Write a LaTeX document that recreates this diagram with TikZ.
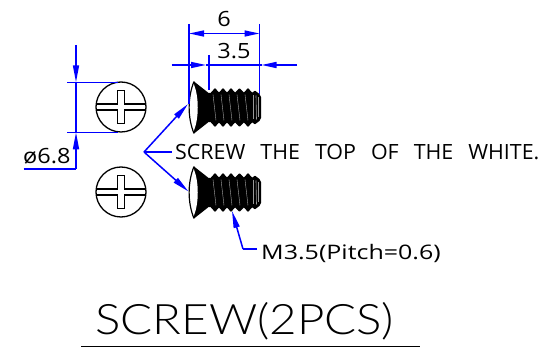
\documentclass[tikz,border=0pt]{standalone}
\usepackage{fontspec}
\setmainfont{Open Sans}
\newfontfamily\wideplain[FakeStretch=1.12]{Open Sans}
\newfontfamily\widepitch[FakeStretch=1.25]{Open Sans}
\newfontfamily\widenote[FakeStretch=1.02]{Open Sans}
\newfontfamily\titlefont[FakeStretch=1.13]{Lato Light}
\usetikzlibrary{arrows.meta}
\definecolor{dimblue}{RGB}{0,0,255}
\tikzset{
 dimline/.style={draw=dimblue,line width=1.5pt},
 tipped/.style={dimline,-{Triangle[length=17pt,width=6pt]}},
 shorttip/.style={dimline,-{Triangle[length=15pt,width=6pt]}},
 twotip/.style={dimline,{Triangle[length=15pt,width=6pt]}-{Triangle[length=15pt,width=6pt]}},
 outline/.style={draw=black,line width=1.3pt},
 label/.style={inner sep=0pt,anchor=west,text=black},
 screwhead/.pic={
  \fill[black] (-5,-26) -- (9,-15) -- (9,15) -- (-5,26) -- cycle;
  \fill[white] (-5,-23) .. controls (-10,-10) and (-10,10) .. (-5,23) .. controls (0,10) and (0,-10) .. cycle;
  \draw[black,line width=1.2pt] (-5,-26) .. controls (-11.5,-10) and (-11.5,10) .. (-5,26);
  \draw[black,line width=1.3pt,line join=round,fill=black] (9,-14)
   -- (12,-14) -- (16,-18.5) -- (20,-14) -- (24,-18.5) -- (28,-14) -- (32,-18.5) -- (36,-14) -- (40.5,-18.5) -- (45,-14) -- (49,-18.5) -- (53,-14) -- (56,-16) -- (60,-13)
   -- (61.5,-10) -- (61.5,10) -- (60,13)
   -- (56,16) -- (53,14) -- (49,18.5) -- (45,14) -- (40.5,18.5) -- (36,14) -- (32,18.5) -- (28,14) -- (24,18.5) -- (20,14) -- (16,18.5) -- (12,14) -- (9,14) -- cycle;
  \foreach \xx in {14,22,30,38,46}{\draw[white!65!black,line width=.4pt] (\xx,-13) -- (\xx+3,13);}
  \draw[white!60!black,line width=.5pt] (54,-12) -- (54,12);
  \draw[white!60!black,line width=.6pt] (57,-12) -- (57.5,12);
  \draw[white!60!black,line width=.6pt] (59.5,-10) -- (59.5,10);
 },
 slothead/.pic={
  \draw[outline] (0,0) circle (25);
  \draw[outline] (-25,-3) -- (-3.5,-3) -- (-3.5,-16.5) -- (3.5,-16.5) -- (3.5,-3) -- (25,-3);
  \draw[outline] (-25,3) -- (-3.5,3) -- (-3.5,16.5) -- (3.5,16.5) -- (3.5,3) -- (25,3);
 }
}
\begin{document}
\begin{tikzpicture}[x=1pt,y=-1pt]
\useasboundingbox (0,0) rectangle (544,355);
% heads
\pic at (121,107) {slothead};
\pic at (121,192) {slothead};
\pic at (199,107.5) {screwhead};
\pic at (199,192.5) {screwhead};
% dimension anchors
\coordinate (w1) at (189,24); \coordinate (w2) at (189,104);
\coordinate (r1) at (259.5,24); \coordinate (r2) at (259.5,94);
\coordinate (m1) at (209,55); \coordinate (m2) at (209,90);
\coordinate (a6l) at (189,33.5); \coordinate (a6r) at (259.5,33.5);
\coordinate (b1) at (171.5,65); \coordinate (b2) at (206,65);
\coordinate (b3) at (297,65); \coordinate (b4) at (261.5,65);
\draw[dimline] (w1) -- (w2);
\draw[dimline] (r1) -- (r2);
\draw[dimline] (m1) -- (m2);
\draw[twotip] (a6l) -- (a6r);
\draw[dimline] (b2) -- (b4);
\draw[shorttip] (b1) -- (b2);
\draw[shorttip] (b3) -- (b4);
\node[label,anchor=center,font=\wideplain\fontsize{21}{21}\selectfont] (six) at (224,19.5) {6};
\node[label,anchor=center,font=\wideplain\fontsize{21}{21}\selectfont] (thr) at (234,51.5) {3.5};
% diameter
\coordinate (t1) at (67,82.3); \coordinate (t2) at (118,82.3);
\coordinate (u1) at (67,132.3); \coordinate (u2) at (118,132.3);
\coordinate (v0) at (76,45); \coordinate (v1) at (76,82.3);
\coordinate (v2) at (76,132.3); \coordinate (v3) at (76,169); \coordinate (v4) at (23.5,169);
\draw[dimline] (t1) -- (t2);
\draw[dimline] (u1) -- (u2);
\draw[tipped] (v0) -- (v1);
\draw[dimline] (v1) -- (v2);
\draw[dimline] (v4) -- (v3);
\draw[tipped] (v3) -- (v2);
\node[label,font=\wideplain\fontsize{21}{21}\selectfont] (dia) at (23,156) {ø6.8};
% leaders
\coordinate (apex) at (144,152);
\coordinate (lead) at (172,152);
\coordinate (up) at (188,104);
\coordinate (dn) at (188.5,191.5);
\draw[dimline] (apex) -- (lead);
\draw[tipped] (apex) -- (up);
\draw[tipped] (apex) -- (dn);
\node[label,font=\widenote\fontsize{21}{21}\selectfont] (note) at (175,152) {\spaceskip=15pt SCREW THE TOP OF THE WHITE.};
% pitch
\coordinate (p0) at (232,211); \coordinate (p1) at (243,249); \coordinate (p2) at (257,249);
\draw[dimline] (p2) -- (p1);
\draw[tipped] (p1) -- (p0);
\node[label,font=\widepitch\fontsize{20}{21}\selectfont] (pitch) at (261,253) {M3.5(Pitch=0.6)};
% title
\node[label,font=\titlefont\fontsize{42}{47}\selectfont] (title) at (95,321) {SCREW(2PCS)};
\coordinate (ul1) at (81,346.5); \coordinate (ul2) at (420,346.5);
\draw[black,line width=1.6pt] (ul1) -- (ul2);
\end{tikzpicture}
\end{document}
